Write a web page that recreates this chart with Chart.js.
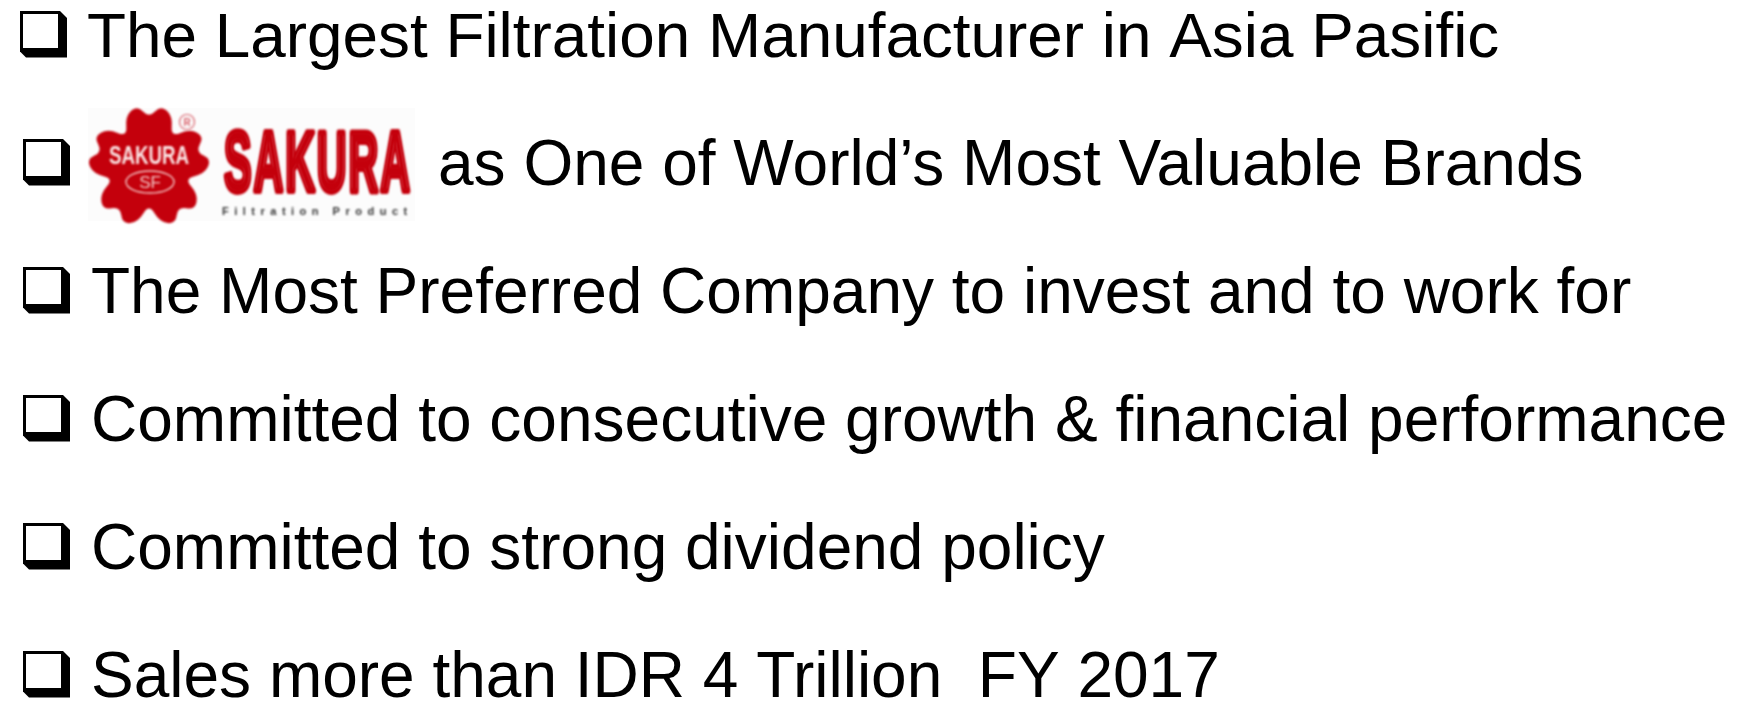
<!DOCTYPE html>
<html><head><meta charset="utf-8">
<script src="https://cdn.jsdelivr.net/npm/chart.js@4"></script>
<style>html,body{margin:0;padding:0;background:#fff}canvas{display:block}</style>
</head><body><canvas id="c" width="1740" height="701"></canvas>
<script>
const rowKeys = ["r1","r2","r3","r4","r5","r6"];
const rowTexts = [
 "The Largest Filtration Manufacturer in Asia Pasific",
 "as One of World\u2019s Most Valuable Brands",
 "The Most Preferred Company to invest and to work for",
 "Committed to consecutive growth & financial performance",
 "Committed to strong dividend policy",
 "Sales more than IDR 4 Trillion  FY 2017"
];
const logoWord = "SAKURA";
const logoSub = "Filtration Product";
const logoSeal = "SF";

const FONT = '"Liberation Sans", Arial, sans-serif';
const textX = [87, 438, 91, 91, 91, 91];
const textSize = [63.85, 64, 64, 64, 64, 64];
const bulletX = [20, 23, 23, 23, 23, 23];
const RED = "#c4000c";

function bullet(ctx, x, yMid) {
  const s = 47, h = 46.5, y = yMid - 23;
  ctx.fillStyle = "#000";
  ctx.beginPath();
  ctx.moveTo(x, y);
  ctx.lineTo(x + s - 7, y);
  ctx.lineTo(x + s, y + 7);
  ctx.lineTo(x + s, y + h);
  ctx.lineTo(x + 6, y + h);
  ctx.lineTo(x, y + h - 6);
  ctx.closePath();
  ctx.fill();
  ctx.fillStyle = "#fff";
  ctx.fillRect(x + 3, y + 3, 35, 34);
}

function flowerPath(ctx, cx, cy) {
  const pts = [];
  const d = Math.PI / 180;
  for (let i = 0; i < 5; i++) {
    const a = -90 + i * 72;
    [[-36, 37], [-25, 56], [-11, 63], [0, 49], [11, 63], [25, 56]].forEach(([o, r]) => {
      pts.push([cx + Math.cos((a + o) * d) * r, cy + Math.sin((a + o) * d) * r]);
    });
  }
  ctx.beginPath();
  const n = pts.length;
  const mid = (p, q) => [(p[0] + q[0]) / 2, (p[1] + q[1]) / 2];
  const m0 = mid(pts[n - 1], pts[0]);
  ctx.moveTo(m0[0], m0[1]);
  for (let i = 0; i < n; i++) {
    const m = mid(pts[i], pts[(i + 1) % n]);
    ctx.quadraticCurveTo(pts[i][0], pts[i][1], m[0], m[1]);
  }
  ctx.closePath();
}

function logo(ctx, yMid) {
  const dy = yMid - 162;
  ctx.save();
  ctx.translate(0, dy);
  ctx.fillStyle = "#fcfcfc";
  ctx.fillRect(88, 108, 327, 113);
  ctx.filter = "blur(0.8px)";
  const cx = 149, cy = 167;
  ctx.fillStyle = RED;
  flowerPath(ctx, cx, cy);
  ctx.fill();
  ctx.fillStyle = "#fbe6e6";
  ctx.font = "bold 25px " + FONT;
  ctx.textAlign = "center";
  ctx.textBaseline = "alphabetic";
  ctx.save(); ctx.translate(cx, 164); ctx.scale(0.75, 1); ctx.fillText(logoWord, 0, 0); ctx.restore();
  ctx.strokeStyle = "#f3c8c8"; ctx.lineWidth = 1.4;
  ctx.beginPath(); ctx.ellipse(cx + 1, 182, 24, 11, 0, 0, Math.PI * 2); ctx.stroke();
  ctx.font = "17px " + FONT; ctx.fillStyle = "#f3c8c8";
  ctx.fillText(logoSeal, cx + 1, 188);
  ctx.strokeStyle = "#d8606a"; ctx.lineWidth = 1.2;
  ctx.beginPath(); ctx.arc(187, 122, 7.5, 0, Math.PI * 2); ctx.stroke();
  ctx.fillStyle = "#d8606a"; ctx.font = "bold 10px " + FONT; ctx.fillText("R", 187, 126);
  // wordmark
  ctx.fillStyle = RED; ctx.strokeStyle = RED; ctx.lineJoin = "round";
  ctx.textAlign = "left";
  ctx.font = "bold 86px " + FONT;
  ctx.letterSpacing = "4px";
  const w = ctx.measureText(logoWord).width;
  ctx.save(); ctx.translate(224, 190.5); ctx.scale(188 / w, 1.0);
  ctx.lineWidth = 6;
  ctx.fillText(logoWord, 0, 0); ctx.strokeText(logoWord, 0, 0);
  ctx.restore();
  ctx.fillStyle = "#333"; ctx.font = "bold 11px " + FONT;
  ctx.letterSpacing = "5.5px";
  ctx.fillText(logoSub, 222, 215);
  ctx.restore();
}

const slidePlugin = {
  id: "slide",
  afterDraw(chart) {
    const ctx = chart.ctx, y = chart.scales.y;
    ctx.save();
    rowKeys.forEach((k, i) => {
      const p = y.getPixelForValue(i);
      bullet(ctx, bulletX[i], p);
      ctx.fillStyle = "#000";
      ctx.font = textSize[i] + "px " + FONT;
      ctx.textAlign = "left";
      ctx.textBaseline = "alphabetic";
      ctx.fillText(rowTexts[i], textX[i], p + 23);
      if (i === 1) logo(ctx, p);
    });
    ctx.restore();
  }
};

new Chart(document.getElementById("c"), {
  type: "line",
  data: { labels: rowKeys, datasets: [{ data: [], indexAxis: "y" }] },
  options: {
    indexAxis: "y",
    responsive: false,
    animation: false,
    layout: { padding: { top: 34, bottom: 27, left: 0, right: 0 } },
    plugins: { legend: { display: false }, tooltip: { enabled: false } },
    scales: {
      x: { type: "linear", display: false },
      y: { type: "category", display: false, offset: false }
    }
  },
  plugins: [slidePlugin]
});
</script></body></html>
